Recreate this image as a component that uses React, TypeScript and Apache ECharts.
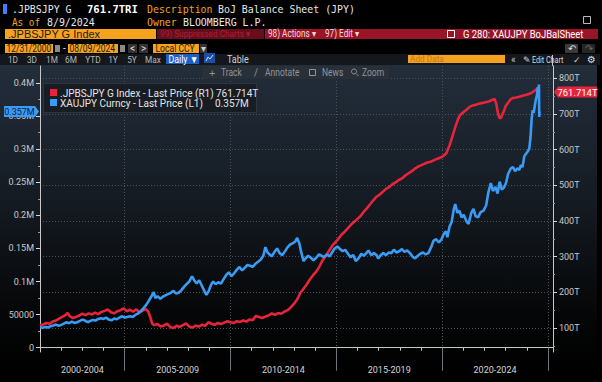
import React, { useEffect, useRef } from 'react';
import * as echarts from 'echarts';

// ---------- DATA ----------
// BoJ balance sheet (.JPBSJPY G Index), trillions of yen, right axis (R1)
const redYears = [
  2001.0, 2001.15, 2001.3, 2001.45, 2001.6, 2001.75, 2001.9, 2002.05, 2002.2, 2002.3, 2002.4, 2002.55, 2002.7, 2002.85,
  2003.0, 2003.15, 2003.3, 2003.45, 2003.6, 2003.75, 2003.9, 2004.05, 2004.2, 2004.35, 2004.5, 2004.65, 2004.8, 2004.95,
  2005.1, 2005.25, 2005.4, 2005.55, 2005.7, 2005.85, 2006.0, 2006.12, 2006.22, 2006.3, 2006.4, 2006.55, 2006.7, 2006.85,
  2007.0, 2007.15, 2007.3, 2007.45, 2007.6, 2007.75, 2007.9, 2008.05, 2008.2, 2008.35, 2008.5, 2008.65, 2008.8, 2008.95,
  2009.1, 2009.25, 2009.4, 2009.55, 2009.7, 2009.85, 2010.0, 2010.15, 2010.3, 2010.45, 2010.6, 2010.75, 2010.9, 2011.05,
  2011.2, 2011.35, 2011.5, 2011.65, 2011.8, 2011.95, 2012.1, 2012.25, 2012.4, 2012.55, 2012.7, 2012.85, 2013.0, 2013.15,
  2013.3, 2013.45, 2013.6, 2013.75, 2013.9, 2014.05, 2014.2, 2014.35, 2014.5, 2014.65, 2014.8, 2014.95, 2015.1, 2015.25,
  2015.4, 2015.55, 2015.7, 2015.85, 2016.0, 2016.15, 2016.3, 2016.45, 2016.6, 2016.75, 2016.9, 2017.05, 2017.2, 2017.35,
  2017.5, 2017.65, 2017.8, 2017.95, 2018.1, 2018.25, 2018.4, 2018.55, 2018.7, 2018.85, 2019.0, 2019.15, 2019.3, 2019.45,
  2019.6, 2019.75, 2019.9, 2020.05, 2020.2, 2020.35, 2020.45, 2020.55, 2020.65, 2020.75, 2020.85, 2021.0, 2021.15, 2021.3,
  2021.45, 2021.6, 2021.75, 2021.9, 2022.05, 2022.2, 2022.35, 2022.48, 2022.56, 2022.63, 2022.7, 2022.77, 2022.84, 2022.92,
  2023.0, 2023.1, 2023.22, 2023.35, 2023.5, 2023.65, 2023.8, 2023.95, 2024.1, 2024.25, 2024.38, 2024.48, 2024.55, 2024.605,
];
const redValues = [
  108, 110, 114, 112, 118, 121, 126, 131, 136, 142, 133, 128, 131, 135,
  140, 136, 141, 138, 143, 139, 145, 148, 152, 144, 141, 147, 150, 155,
  147, 151, 146, 152, 144, 149, 153, 145, 128, 112, 108, 111, 104, 107,
  112, 103, 100, 106, 103, 108, 113, 104, 101, 107, 104, 109, 106, 116,
  112, 109, 114, 111, 115, 119, 116, 114, 119, 117, 121, 118, 124, 122,
  134, 131, 128, 132, 135, 141, 137, 142, 140, 146, 150, 158, 168, 180,
  198, 210, 222, 236, 248, 258, 272, 290, 302, 316, 330, 340, 350, 362,
  370, 380, 390, 398, 406, 414, 426, 436, 447, 458, 468, 474, 482, 490,
  495, 503, 508, 515, 519, 527, 533, 539, 546, 552, 556, 560, 564, 566,
  570, 574, 577, 582, 590, 612, 630, 650, 668, 685, 697, 705, 712, 720,
  724, 726, 729, 731, 733, 735, 739, 742, 728, 705, 690, 688, 698, 708,
  722, 730, 740, 745, 746, 748, 751, 753, 756, 760, 766, 770, 767, 761.714,
];

// Gold in yen (XAUJPY Curncy), left axis (L1)
const blueYears = [
  2001.0, 2001.12, 2001.25, 2001.38, 2001.5, 2001.62, 2001.75, 2001.88, 2002.0, 2002.12, 2002.25, 2002.38, 2002.5, 2002.62,
  2002.75, 2002.88, 2003.0, 2003.12, 2003.25, 2003.38, 2003.5, 2003.62, 2003.75, 2003.88, 2004.0, 2004.12, 2004.25, 2004.38,
  2004.5, 2004.62, 2004.75, 2004.88, 2005.0, 2005.12, 2005.25, 2005.38, 2005.5, 2005.62, 2005.75, 2005.88, 2006.0, 2006.12,
  2006.25, 2006.37, 2006.45, 2006.55, 2006.68, 2006.8, 2006.92, 2007.05, 2007.18, 2007.3, 2007.42, 2007.55, 2007.68, 2007.8,
  2007.92, 2008.05, 2008.18, 2008.28, 2008.4, 2008.52, 2008.64, 2008.76, 2008.86, 2008.96, 2009.08, 2009.18, 2009.3, 2009.42,
  2009.55, 2009.68, 2009.8, 2009.92, 2010.05, 2010.18, 2010.3, 2010.42, 2010.55, 2010.68, 2010.8, 2010.92, 2011.05, 2011.18,
  2011.3, 2011.42, 2011.55, 2011.65, 2011.75, 2011.85, 2011.95, 2012.08, 2012.2, 2012.32, 2012.45, 2012.58, 2012.7, 2012.82,
  2012.95, 2013.07, 2013.15, 2013.25, 2013.33, 2013.45, 2013.55, 2013.67, 2013.8, 2013.92, 2014.05, 2014.18, 2014.3, 2014.42,
  2014.55, 2014.68, 2014.8, 2014.92, 2015.05, 2015.18, 2015.3, 2015.42, 2015.55, 2015.67, 2015.8, 2015.92, 2016.05, 2016.18,
  2016.3, 2016.42, 2016.52, 2016.65, 2016.78, 2016.9, 2016.98, 2017.1, 2017.22, 2017.35, 2017.48, 2017.6, 2017.72, 2017.85,
  2017.98, 2018.1, 2018.22, 2018.35, 2018.48, 2018.6, 2018.72, 2018.85, 2018.97, 2019.1, 2019.22, 2019.35, 2019.48, 2019.6,
  2019.72, 2019.85, 2019.97, 2020.08, 2020.18, 2020.25, 2020.35, 2020.45, 2020.55, 2020.62, 2020.72, 2020.82, 2020.92, 2021.02,
  2021.15, 2021.25, 2021.38, 2021.48, 2021.58, 2021.7, 2021.82, 2021.95, 2022.08, 2022.18, 2022.3, 2022.4, 2022.52, 2022.62,
  2022.72, 2022.82, 2022.92, 2023.02, 2023.12, 2023.25, 2023.35, 2023.45, 2023.55, 2023.65, 2023.72, 2023.8, 2023.88, 2023.96,
  2024.05, 2024.12, 2024.18, 2024.23, 2024.28, 2024.33, 2024.38, 2024.43, 2024.48, 2024.52, 2024.55, 2024.575, 2024.59, 2024.605,
];
const blueValues = [
  31000, 30200, 31500, 30500, 32500, 33500, 35000, 33000, 34500, 36500, 38500, 37000, 39500, 37500,
  38500, 40500, 42500, 41000, 38500, 40500, 42000, 41000, 43500, 44500, 43500, 45500, 42500, 41500,
  44000, 43000, 45500, 47500, 45500, 46500, 47500, 46500, 49500, 51500, 55000, 59500, 64000, 70000,
  77000, 84000, 75000, 78000, 74000, 77000, 79000, 81000, 83000, 86000, 82000, 83000, 87000, 92000,
  96000, 100000, 108000, 102000, 97000, 102000, 94000, 86000, 80000, 85000, 95000, 100000, 96000, 99000,
  97000, 104000, 110000, 114000, 108000, 113000, 118000, 122000, 117000, 121000, 125000, 124000, 122000, 127000,
  130000, 133000, 139000, 152000, 144000, 141000, 138000, 145000, 150000, 143000, 140000, 146000, 152000, 156000,
  158000, 161000, 166000, 158000, 146000, 131000, 135000, 139000, 136000, 132000, 136000, 141000, 139000, 137000,
  141000, 138000, 144000, 150000, 153000, 149000, 146000, 148000, 142000, 137000, 140000, 131000, 135000, 142000,
  139000, 143000, 147000, 140000, 143000, 140000, 135000, 140000, 143000, 140000, 144000, 143000, 148000, 144000,
  146000, 149000, 145000, 147000, 143000, 138000, 135000, 139000, 142000, 144000, 141000, 143000, 152000, 162000,
  164000, 159000, 164000, 172000, 176000, 167000, 183000, 190000, 209000, 217000, 204000, 207000, 197000, 201000,
  191000, 187000, 204000, 210000, 199000, 197000, 205000, 207000, 215000, 234000, 249000, 237000, 243000, 233000,
  251000, 239000, 242000, 249000, 263000, 271000, 273000, 267000, 271000, 269000, 276000, 273000, 289000, 293000,
  297000, 301000, 319000, 346000, 359000, 355000, 366000, 375000, 381000, 394000, 381000, 398000, 349000, 357000,
];

const leftTicks = [0, 50000, 100000, 150000, 200000, 250000, 300000, 350000, 400000];
const leftTickLabels = ['0', '50000', '0.1M', '0.15M', '0.2M', '0.25M', '0.3M', '0.35M', '0.4M'];
const leftMinorTicks = [25000, 75000, 125000, 175000, 225000, 275000, 325000, 375000];
const rightTicks = [100, 200, 300, 400, 500, 600, 700, 800];
const rightMinorTicks = [50, 150, 250, 350, 450, 550, 650, 750];
const yearTicks = [2001, 2002, 2003, 2004, 2005, 2006, 2007, 2008, 2009, 2010, 2011, 2012, 2013, 2014, 2015, 2016, 2017, 2018, 2019, 2020, 2021, 2022, 2023, 2024, 2025];
const periodLabels = ['2000-2004', '2005-2009', '2010-2014', '2015-2019', '2020-2024'];
const periodBounds = [2005, 2010, 2015, 2020, 2025];
const periodCenters = [2003.0, 2007.5, 2012.5, 2017.5, 2022.5];

const lastRed = 761.714;
const lastBlue = 357000;

// ---------- STYLE ----------
const MONO = "'DejaVu Sans Mono', 'Liberation Mono', monospace";
const UI = "Roboto, 'Noto Sans', sans-serif";
const SANS = "'Liberation Sans', Arial, sans-serif";
const ORANGE = '#f5a21f';
const RED = '#e8243c';
const BLUE = '#3a9bf4';
const AXIS = '#c8c8c8';

const T = (x: number, y: number, text: string, fill: string, font: string, o: any = {}) => ({
  type: 'text', x, y, z: o.z ?? 50, scaleX: o.sx ?? 1, silent: true,
  style: { text, fill, font, align: o.align ?? 'left', verticalAlign: 'middle' },
});
const R = (x: number, y: number, w: number, h: number, fill: string, o: any = {}) => ({
  type: 'rect', z: o.z ?? 40, silent: true,
  shape: { x, y, width: w, height: h },
  style: { fill, stroke: o.stroke ?? null, lineWidth: o.lw ?? (o.stroke ? 1 : 0) },
});

function baseGraphics(): any[] {
  const m11 = `11px ${MONO}`;
  const ui10 = `10px ${UI}`;
  const ui9 = `9px ${UI}`;
  const g: any[] = [];
  // panel background
  g.push({
    type: 'rect', z: -10, silent: true, shape: { x: 0, y: 65, width: 597, height: 312 },
    style: {
      fill: new echarts.graphic.LinearGradient(0, 0, 0, 1, [
        { offset: 0, color: '#232e3b' }, { offset: 0.45, color: '#141a21' },
        { offset: 0.8, color: '#050607' }, { offset: 1, color: '#000000' },
      ]),
    },
  });
  // row 1-2
  g.push(R(3, 4, 4, 10, '#3d7fff'));
  g.push(T(12, 9, '.JPBSJPY G', '#e8e8e8', m11, { sx: 0.9 }));
  g.push(T(87, 9, '761.7TRI', '#ffffff', `bold ${m11}`, { sx: 0.96 }));
  g.push(T(147, 9, 'Description', ORANGE, m11, { sx: 0.9 }));
  g.push(T(218, 9, 'BoJ Balance Sheet (JPY)', '#e8e8e8', m11, { sx: 0.9 }));
  g.push(T(12, 22, 'As of', ORANGE, m11, { sx: 0.85 }));
  g.push(T(47, 22, '8/9/2024', '#e8e8e8', m11, { sx: 0.9 }));
  g.push(T(147, 22, 'Owner', ORANGE, m11, { sx: 0.9 }));
  g.push(T(183, 22, 'BLOOMBERG L.P.', '#e8e8e8', m11, { sx: 0.9 }));
  g.push(R(583.5, 16.5, 7, 7, 'none', { stroke: '#bbbbbb' }));
  // row 3
  g.push(R(5, 29, 151, 10, ORANGE));
  g.push(T(8, 34, '.JPBSJPY G Index', '#1a1a1a', `11px ${SANS}`));
  g.push(R(157, 29, 107, 10, '#6a0d1b'));
  g.push(T(160, 34, '99) Suppressed Charts ▾', '#a5203a', ui9, { sx: 0.92 }));
  g.push(R(265, 29, 333, 10, '#9a1428'));
  g.push(T(268, 34, '98) Actions ▾', '#f2dada', ui10, { sx: 0.82 }));
  g.push(T(325, 34, '97) Edit ▾', '#f2dada', ui10, { sx: 0.82 }));
  g.push(R(447.5, 30.5, 7, 7, 'none', { stroke: '#ffffff', z: 45 }));
  g.push(T(463, 34, 'G 280: XAUJPY BoJBalSheet', '#ffffff', `11px ${UI}`, { sx: 0.86 }));
  // row 4
  g.push(R(5, 44, 48, 9, ORANGE));
  g.push(T(6.5, 48.5, '12/31/2000', '#2a1a00', ui10, { sx: 0.84 }));
  g.push(R(55, 45, 5, 7, '#8a8a8a'));
  g.push(T(63, 48.5, '-', '#e0e0e0', ui10));
  g.push(R(68, 44, 50, 9, ORANGE));
  g.push(T(69.5, 48.5, '08/09/2024', '#2a1a00', ui10, { sx: 0.86 }));
  g.push(R(120, 45, 5, 7, '#8a8a8a'));
  g.push(R(128, 44, 9, 9, '#333333'));
  g.push(T(132.5, 48.5, '<', '#dddddd', ui10, { align: 'center' }));
  g.push(R(139, 44, 9, 9, '#333333'));
  g.push(T(143.5, 48.5, '>', '#dddddd', ui10, { align: 'center' }));
  g.push(R(153, 44, 46, 9, ORANGE));
  g.push(T(155.5, 48.5, 'Local CCY', '#2a1a00', ui10, { sx: 0.86 }));
  g.push(R(200, 44, 7, 9, '#333333'));
  g.push(T(203.5, 48.5, '▾', '#cccccc', ui10, { align: 'center' }));
  g.push(R(565, 44, 13, 9, '#3a3a3a'));
  g.push(T(571.5, 48.5, '↶', '#dddddd', ui10, { align: 'center' }));
  g.push(R(582, 44, 13, 9, '#262626'));
  g.push(T(588.5, 48.5, '↷', '#666666', ui10, { align: 'center' }));
  // row 5
  g.push(R(0, 54, 600, 11, '#14171b', { z: 30 }));
  const periods: [string, number][] = [['1D', 13], ['3D', 32], ['1M', 52], ['6M', 71], ['YTD', 93], ['1Y', 113], ['5Y', 132], ['Max', 153]];
  periods.forEach(([s, x]) => g.push(T(x, 59.5, s, '#b8b8b8', ui9, { align: 'center', sx: 0.92 })));
  g.push(R(166, 54, 33, 10, '#1d5fc4'));
  g.push(T(168.5, 59.5, 'Daily ▼', '#ffffff', ui10, { sx: 0.88 }));
  g.push(R(204, 53, 11, 10, '#1d4fa8'));
  g.push({ type: 'polyline', z: 45, silent: true, shape: { points: [[206, 61], [208, 57], [210, 59], [213, 55]] }, style: { stroke: '#cfe0ff', lineWidth: 1, fill: null } });
  g.push(T(227, 59.5, 'Table', '#d0d0d0', ui10, { sx: 0.9 }));
  g.push(R(408, 55, 97, 8, ORANGE));
  g.push(T(410, 59, 'Add Data', '#c9780e', ui9, { sx: 0.92 }));
  g.push(T(511, 59.5, '«', '#c8c8c8', ui10));
  g.push(T(523, 59.5, '✎', '#dddddd', `9px 'DejaVu Sans'`));
  g.push(T(532, 59.5, 'Edit Chart', '#dddddd', ui9, { sx: 0.8 }));
  g.push(T(573, 59.5, '✓', '#cccccc', `9px 'DejaVu Sans'`));
  g.push(T(587, 59.5, '⚙', '#dddddd', `10px 'DejaVu Sans'`));
  // right axis line extension
  g.push({ type: 'line', z: 45, silent: true, shape: { x1: 552.5, y1: 55, x2: 552.5, y2: 66 }, style: { stroke: AXIS, lineWidth: 1 } });
  // toolbar
  const tc = '#8e959d';
  g.push(R(203, 66, 186, 13, '#2a3037', { z: 60 }));
  g.push(T(209, 72.5, '+', tc, `11px ${SANS}`, { z: 61 }));
  g.push(T(221, 72.5, 'Track', tc, ui10, { z: 61, sx: 0.85 }));
  g.push(T(254, 72.5, '/', tc, ui10, { z: 61 }));
  g.push(T(265, 72.5, 'Annotate', tc, ui10, { z: 61, sx: 0.85 }));
  g.push(R(309.5, 69.5, 6, 6, 'none', { stroke: tc, z: 61 }));
  g.push(T(322, 72.5, 'News', tc, ui10, { z: 61, sx: 0.85 }));
  g.push({ type: 'circle', z: 61, silent: true, shape: { cx: 354, cy: 71.5, r: 2.5 }, style: { stroke: tc, fill: null, lineWidth: 1 } });
  g.push({ type: 'line', z: 61, silent: true, shape: { x1: 356, y1: 73.5, x2: 358.5, y2: 76 }, style: { stroke: tc, lineWidth: 1 } });
  g.push(T(362, 72.5, 'Zoom', tc, ui10, { z: 61, sx: 0.85 }));
  // legend
  g.push(R(43.5, 83.5, 213, 29, 'rgba(24,28,34,0.93)', { stroke: '#2f353d', z: 60 }));
  g.push(R(50, 89, 7, 7, RED, { z: 61 }));
  g.push(R(50, 99, 7, 7, BLUE, { z: 61 }));
  g.push(T(60, 93, '.JPBSJPY G Index - Last Price (R1)', '#e4e4e4', ui10, { z: 61 }));
  g.push(T(216, 93, '761.714T', '#e4e4e4', ui10, { z: 61 }));
  g.push(T(60, 103, 'XAUJPY Curncy - Last Price (L1)', '#e4e4e4', ui10, { z: 61 }));
  g.push(T(215, 103, '0.357M', '#e4e4e4', ui10, { z: 61 }));
  return g;
}

const XMIN = 2000.997;
const XMAX = 2025.24;

function buildOption(): any {
  const nearest = (arr: number[], v: number) => {
    let b = 0;
    arr.forEach((c, i) => { if (Math.abs(c - v) < Math.abs(arr[b] - v)) b = i; });
    return b;
  };
  const lbl = { color: AXIS, fontSize: 9, fontFamily: UI };
  return {
    animation: false,
    backgroundColor: 'transparent',
    grid: { left: 40, right: 49, top: 66, bottom: 30, containLabel: false, outerBoundsMode: 'none' },
    xAxis: [
      {
        type: 'value', min: XMIN, max: XMAX, position: 'bottom',
        axisLine: { show: true, lineStyle: { color: AXIS, width: 1 } },
        axisTick: { show: true, customValues: yearTicks, length: 3, lineStyle: { color: AXIS } },
        axisLabel: { show: false }, splitLine: { show: false },
      },
      {
        type: 'value', min: XMIN, max: XMAX, position: 'bottom',
        axisLine: { show: false },
        axisTick: { show: true, customValues: periodBounds, length: 23, lineStyle: { color: '#6f757b' } },
        axisLabel: {
          show: true, customValues: periodCenters, margin: 13, ...lbl, color: '#d4d4d4',
          formatter: (v: number) => periodLabels[nearest(periodCenters, v)],
        },
        splitLine: { show: true, lineStyle: { color: '#4c5258', type: [1, 2], width: 1 } },
      },
    ],
    yAxis: [
      {
        type: 'value', position: 'left', min: -6500, max: 425900,
        axisLine: { show: true, lineStyle: { color: AXIS } },
        axisTick: { show: true, customValues: leftTicks, length: 4, lineStyle: { color: '#d8d8d8' } },
        axisLabel: { customValues: leftTicks, margin: 6, ...lbl, formatter: (v: number) => leftTickLabels[nearest(leftTicks, v)] },
        splitLine: { show: false },
      },
      {
        type: 'value', position: 'right', min: 32.7, max: 834.5,
        axisLine: { show: true, lineStyle: { color: AXIS } },
        axisTick: { show: true, customValues: rightTicks, length: 4, lineStyle: { color: '#d8d8d8' } },
        axisLabel: { customValues: rightTicks, margin: 6, ...lbl, formatter: (v: number) => `${v}T` },
        splitLine: { show: true, lineStyle: { color: '#4c5258', type: [1, 2], width: 1 } },
      },
      {
        type: 'value', position: 'left', min: -6500, max: 425900,
        axisLine: { show: false },
        axisTick: { show: true, customValues: leftMinorTicks, length: 2, lineStyle: { color: '#9a9a9a' } },
        axisLabel: { show: false }, splitLine: { show: false },
      },
      {
        type: 'value', position: 'right', min: 32.7, max: 834.5,
        axisLine: { show: false },
        axisTick: { show: true, customValues: rightMinorTicks, length: 2, lineStyle: { color: '#9a9a9a' } },
        axisLabel: { show: false }, splitLine: { show: false },
      },
    ],
    series: [
      {
        type: 'line', name: '.JPBSJPY G Index', xAxisIndex: 0, yAxisIndex: 1, z: 3,
        data: redYears.map((x, i) => [x, redValues[i]]),
        showSymbol: false, symbol: 'none', lineStyle: { color: RED, width: 2.6 },
      },
      {
        type: 'line', name: 'XAUJPY Curncy', xAxisIndex: 0, yAxisIndex: 0, z: 4,
        data: blueYears.map((x, i) => [x, blueValues[i]]),
        showSymbol: false, symbol: 'none', lineStyle: { color: BLUE, width: 2.6 },
      },
    ],
  };
}

export default function App() {
  const ref = useRef<HTMLDivElement>(null);
  useEffect(() => {
    if (!ref.current) return;
    const chart = echarts.init(ref.current, null, { renderer: 'svg' });
    chart.setOption(buildOption());
    const yR = chart.convertToPixel({ yAxisIndex: 1 }, lastRed) as number;
    const yB = chart.convertToPixel({ yAxisIndex: 0 }, lastBlue) as number;
    const g = baseGraphics();
    g.push({
      type: 'polygon', z: 70, silent: true,
      shape: { points: [[4, yB - 5.5], [35, yB - 5.5], [39, yB], [35, yB + 5.5], [4, yB + 5.5]] },
      style: { fill: BLUE },
    });
    g.push(T(19.5, yB + 0.5, '0.357M', '#0c2140', `9px ${UI}`, { z: 71, align: 'center' }));
    g.push({
      type: 'polygon', z: 70, silent: true,
      shape: { points: [[554, yR], [558, yR - 5.5], [597, yR - 5.5], [597, yR + 5.5], [558, yR + 5.5]] },
      style: { fill: RED },
    });
    g.push(T(577.5, yR + 0.5, '761.714T', '#ffffff', `9.5px ${UI}`, { z: 71, align: 'center' }));
    chart.setOption({ graphic: g });
    return () => chart.dispose();
  }, []);
  return (
    <div
      ref={ref}
      style={{ position: 'fixed', left: 0, top: 0, width: 602, height: 382, background: '#000000' }}
    />
  );
}
